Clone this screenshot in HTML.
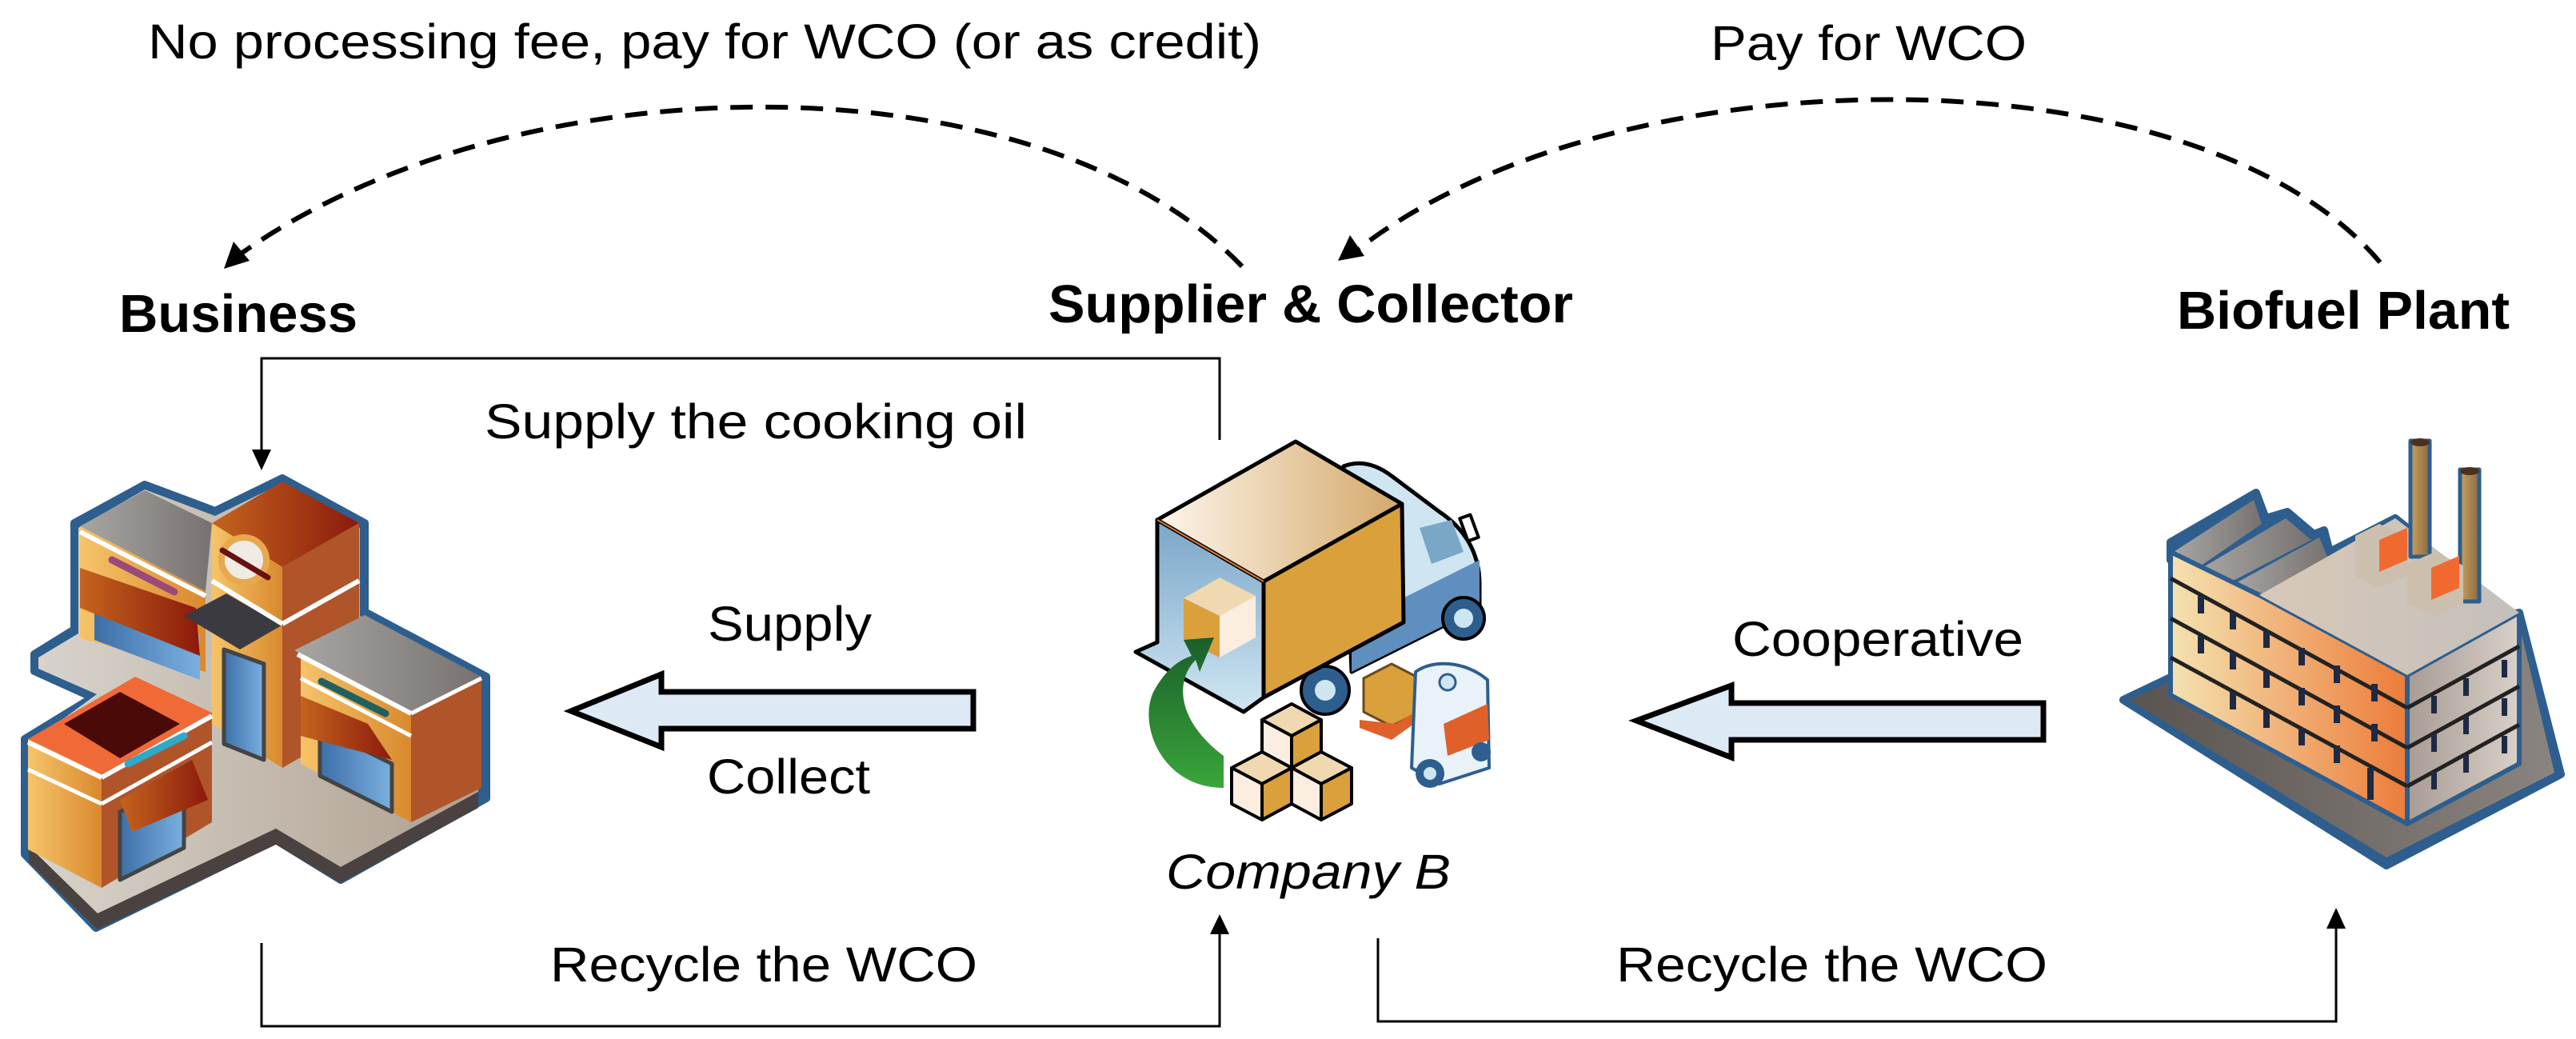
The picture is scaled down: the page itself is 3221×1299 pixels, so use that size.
<!DOCTYPE html>
<html><head><meta charset="utf-8"><style>
html,body{margin:0;padding:0;background:#fff;}
svg{display:block}
text{font-family:"Liberation Sans",Arial,sans-serif;fill:#000}
</style></head><body>
<svg width="3221" height="1299" viewBox="0 0 3221 1299" xmlns="http://www.w3.org/2000/svg">
<defs>
<marker id="ah" markerWidth="10" markerHeight="10" refX="9" refY="5" orient="auto" markerUnits="userSpaceOnUse" viewBox="0 0 10 10">
</marker>
<linearGradient id="gOr" x1="0" x2="1"><stop offset="0" stop-color="#f6c46a"/><stop offset="1" stop-color="#d9892e"/></linearGradient>
<linearGradient id="gBr" x1="0" x2="1"><stop offset="0" stop-color="#c4641e"/><stop offset="1" stop-color="#8c1a0c"/></linearGradient>
<linearGradient id="gGr" x1="0" x2="1"><stop offset="0" stop-color="#a8a6a4"/><stop offset="1" stop-color="#777270"/></linearGradient>
<linearGradient id="gBase" x1="0" x2="1"><stop offset="0" stop-color="#d8d4cc"/><stop offset="1" stop-color="#b0a090"/></linearGradient>
<linearGradient id="gWin" x1="0" x2="1"><stop offset="0" stop-color="#3d6fa8"/><stop offset="1" stop-color="#7ab0e0"/></linearGradient>
<linearGradient id="gBox" x1="0" x2="1"><stop offset="0" stop-color="#fdf6ec"/><stop offset="1" stop-color="#d4a868"/></linearGradient>
<linearGradient id="gTruckIn" x1="0" y1="0" x2="0" y2="1"><stop offset="0" stop-color="#7aa6c8"/><stop offset="1" stop-color="#cfe6f2"/></linearGradient>
<linearGradient id="gFac" x1="0" x2="1"><stop offset="0" stop-color="#f4e2b0"/><stop offset="1" stop-color="#ec7c3a"/></linearGradient>
<linearGradient id="gFacR" x1="0" x2="1"><stop offset="0" stop-color="#a89c94"/><stop offset="1" stop-color="#d8d0c8"/></linearGradient>
<linearGradient id="gRoof" x1="0" x2="1"><stop offset="0" stop-color="#d8c8b8"/><stop offset="1" stop-color="#c4c0bc"/></linearGradient>
<linearGradient id="gChim" x1="0" x2="1"><stop offset="0" stop-color="#c8a060"/><stop offset="1" stop-color="#8a6a40"/></linearGradient>
<linearGradient id="gFBase" x1="0" x2="1"><stop offset="0" stop-color="#5a5450"/><stop offset="1" stop-color="#8a8480"/></linearGradient>
<linearGradient id="gGreen" x1="0" y1="1" x2="0" y2="0"><stop offset="0" stop-color="#3aa63a"/><stop offset="1" stop-color="#1a5e2a"/></linearGradient>
</defs>

<!-- Top labels -->
<text x="185" y="73" font-size="61" textLength="1392" lengthAdjust="spacingAndGlyphs">No processing fee, pay for WCO (or as credit)</text>
<text x="2139" y="75" font-size="61" textLength="395" lengthAdjust="spacingAndGlyphs">Pay for WCO</text>

<!-- Dashed curves -->
<path d="M1553,333 C1300,70 650,70 300,318" fill="none" stroke="#000" stroke-width="6" stroke-dasharray="28,16"/>
<polygon points="280,336 292,302 312,326" fill="#000"/>
<path d="M2976,328 C2750,59 2020,59 1695,314" fill="none" stroke="#000" stroke-width="6" stroke-dasharray="28,16"/>
<polygon points="1673,326 1688,294 1706,320" fill="#000"/>

<!-- Node labels -->
<text x="149" y="415" font-size="67" font-weight="bold" textLength="298" lengthAdjust="spacingAndGlyphs">Business</text>
<text x="1311" y="403" font-size="67" font-weight="bold" textLength="656" lengthAdjust="spacingAndGlyphs">Supplier &amp; Collector</text>
<text x="2722" y="411" font-size="67" font-weight="bold" textLength="416" lengthAdjust="spacingAndGlyphs">Biofuel Plant</text>

<!-- Supply the cooking oil connector -->
<polyline points="1525,550 1525,448 327,448 327,565" fill="none" stroke="#000" stroke-width="3"/>
<polygon points="315,562 339,562 327,588" fill="#000"/>
<text x="606" y="548" font-size="61" textLength="678" lengthAdjust="spacingAndGlyphs">Supply the cooking oil</text>

<!-- Recycle connectors -->
<polyline points="327,1179 327,1283 1525,1283 1525,1165" fill="none" stroke="#000" stroke-width="3"/>
<polygon points="1513,1168 1537,1168 1525,1143" fill="#000"/>
<text x="688" y="1227" font-size="61" textLength="534" lengthAdjust="spacingAndGlyphs">Recycle the WCO</text>
<polyline points="1723,1173 1723,1277 2921,1277 2921,1158" fill="none" stroke="#000" stroke-width="3"/>
<polygon points="2909,1161 2933,1161 2921,1135" fill="#000"/>
<text x="2021" y="1227" font-size="61" textLength="539" lengthAdjust="spacingAndGlyphs">Recycle the WCO</text>

<!-- Block arrows -->
<polygon points="714,889 827,843 827,865 1217,865 1217,911 827,911 827,934" fill="#dde9f5" stroke="#000" stroke-width="7" stroke-linejoin="miter"/>
<text x="885" y="801" font-size="61" textLength="205" lengthAdjust="spacingAndGlyphs">Supply</text>
<text x="884" y="992" font-size="61" textLength="204" lengthAdjust="spacingAndGlyphs">Collect</text>
<polygon points="2046,901 2165,857 2165,879 2555,879 2555,925 2165,925 2165,947" fill="#dde9f5" stroke="#000" stroke-width="7"/>
<text x="2166" y="820" font-size="61" textLength="364" lengthAdjust="spacingAndGlyphs">Cooperative</text>

<text x="1458" y="1111" font-size="61" font-style="italic" textLength="356" lengthAdjust="spacingAndGlyphs">Company B</text>

<!-- Business building -->
<g stroke-linejoin="round">
<polygon points="31,924 31,1068 120,1160 345,1050 426,1100 608,998 608,846 456,765 456,654 353,598 269,639 181,606 93,654 93,787 43,818 43,839 116,872" fill="#2d5e8e" stroke="#2d5e8e" stroke-width="10"/>
<polygon points="36,930 36,1058 122,1142 345,1036 426,1084 598,990 598,852 450,770 450,660 353,604 269,645 181,612 98,660 98,792 48,822 48,836 121,868" fill="url(#gBase)"/>
<polygon points="36,1058 122,1142 345,1036 426,1084 598,990 598,1010 426,1104 345,1056 122,1162 36,1078" fill="#4a4240"/>
<!-- left back block -->
<polygon points="100,658 181,613 265,654 257,739 100,658" fill="url(#gGr)"/>
<polygon points="100,658 257,739 257,840 100,798" fill="url(#gOr)"/>
<polygon points="118,745 250,795 250,850 118,800" fill="url(#gWin)"/>
<polygon points="100,710 245,760 250,820 100,760" fill="url(#gBr)"/>
<line x1="100" y1="665" x2="257" y2="745" stroke="#fff" stroke-width="6"/>
<line x1="140" y1="700" x2="218" y2="740" stroke="#9a4a7a" stroke-width="9" stroke-linecap="round"/>
<!-- tower -->
<polygon points="265,654 353,602 449,654 353,709" fill="url(#gBr)"/>
<polygon points="265,654 353,709 353,960 265,905" fill="url(#gOr)"/>
<polygon points="353,709 449,654 449,905 353,960" fill="#b0542a"/>
<circle cx="305" cy="700" r="28" fill="#f0ece4" stroke="#e8a850" stroke-width="8"/>
<line x1="278" y1="688" x2="335" y2="722" stroke="#6a1010" stroke-width="7" stroke-linecap="round"/>
<polygon points="230,770 283,742 352,782 300,812" fill="#3a3a40"/>
<polygon points="280,812 330,830 330,950 280,930" fill="url(#gWin)" stroke="#444" stroke-width="5"/>
<line x1="265" y1="726" x2="353" y2="780" stroke="#fff" stroke-width="6"/>
<line x1="353" y1="780" x2="449" y2="726" stroke="#fff" stroke-width="6"/>
<!-- right block -->
<polygon points="368,813 456,769 602,846 514,890" fill="url(#gGr)"/>
<polygon points="376,818 514,890 514,1028 376,955" fill="url(#gOr)"/>
<polygon points="514,890 602,846 602,985 514,1028" fill="#b0542a"/>
<polygon points="400,910 490,955 490,1015 400,970" fill="url(#gWin)" stroke="#444" stroke-width="5"/>
<polygon points="376,870 460,905 490,950 376,920" fill="url(#gBr)"/>
<line x1="372" y1="818" x2="514" y2="892" stroke="#fff" stroke-width="6"/>
<line x1="376" y1="848" x2="514" y2="920" stroke="#fff" stroke-width="5"/>
<line x1="514" y1="892" x2="602" y2="848" stroke="#fff" stroke-width="5"/>
<line x1="402" y1="852" x2="482" y2="892" stroke="#1f6060" stroke-width="9" stroke-linecap="round"/>
<!-- front-left block -->
<polygon points="35,924 169,846 265,891 127,968" fill="#f06a38"/>
<polygon points="80,905 150,865 225,905 150,948" fill="#4a0a08"/>
<polygon points="35,924 127,968 127,1110 35,1062" fill="url(#gOr)"/>
<polygon points="127,968 265,891 265,1028 127,1110" fill="#b0542a"/>
<polygon points="150,1015 230,975 230,1060 150,1100" fill="url(#gWin)" stroke="#444" stroke-width="5"/>
<polygon points="150,1000 240,950 260,1000 165,1040" fill="url(#gBr)"/>
<line x1="35" y1="928" x2="127" y2="972" stroke="#fff" stroke-width="6"/>
<line x1="127" y1="972" x2="265" y2="895" stroke="#fff" stroke-width="6"/>
<line x1="35" y1="962" x2="127" y2="1005" stroke="#fff" stroke-width="5"/>
<line x1="127" y1="1005" x2="265" y2="928" stroke="#fff" stroke-width="5"/>
<line x1="160" y1="955" x2="230" y2="920" stroke="#30a8c8" stroke-width="9" stroke-linecap="round"/>
</g>

<!-- Truck -->
<g stroke-linejoin="round">
<!-- cab -->
<path d="M1680,583 C1700,575 1720,580 1740,595 L1800,640 C1830,660 1850,690 1850,730 L1850,760 L1690,840 Z" fill="#cfe6f2" stroke="#000" stroke-width="5"/>
<polygon points="1775,660 1815,650 1830,690 1790,705" fill="#7aa6c8"/>
<polygon points="1690,780 1850,700 1850,760 1690,840" fill="#5f8fbf"/>
<rect x="1830" y="645" width="14" height="30" fill="#fff" stroke="#000" stroke-width="4" transform="rotate(-20 1837 660)"/>
<circle cx="1830" cy="773" r="26" fill="#2d5e8e" stroke="#000" stroke-width="4"/>
<circle cx="1830" cy="773" r="12" fill="#cfe6f2"/>
<circle cx="1657" cy="863" r="30" fill="#2d5e8e" stroke="#000" stroke-width="4"/>
<circle cx="1657" cy="863" r="13" fill="#cfe6f2"/>
<!-- open back -->
<polygon points="1420,815 1447,803 1447,650 1580,727 1580,872 1555,890" fill="url(#gTruckIn)" stroke="#000" stroke-width="5"/>
<!-- box top -->
<polygon points="1447,650 1620,552 1753,630 1580,727" fill="url(#gBox)" stroke="#000" stroke-width="5"/>
<polygon points="1580,727 1753,630 1755,778 1580,872" fill="#d9a03c" stroke="#000" stroke-width="5"/>
<line x1="1447" y1="650" x2="1580" y2="727" stroke="#e07a30" stroke-width="2"/>
<!-- box in truck -->
<polygon points="1480,748 1525,722 1570,745 1525,770" fill="#f0d8b0"/>
<polygon points="1480,748 1525,770 1525,822 1480,800" fill="#d9a03c"/>
<polygon points="1525,770 1570,745 1570,797 1525,822" fill="#fbeee0"/>
<!-- green arrow -->
<path d="M1530,985 C1450,985 1420,900 1445,860 C1460,835 1475,825 1490,820 L1480,800 L1518,797 L1500,840 L1495,825 C1470,850 1470,900 1530,945 Z" fill="url(#gGreen)"/>
<!-- box pile -->
<g stroke="#000" stroke-width="4">
<polygon points="1578,900 1615,880 1652,900 1615,920" fill="#f0d8b0"/>
<polygon points="1578,900 1615,920 1615,960 1578,940" fill="#fbeee0"/>
<polygon points="1615,920 1652,900 1652,940 1615,960" fill="#d9a03c"/>
<polygon points="1540,960 1578,940 1615,960 1578,980" fill="#f0d8b0"/>
<polygon points="1540,960 1578,980 1578,1025 1540,1005" fill="#fbeee0"/>
<polygon points="1578,980 1615,960 1615,1005 1578,1025" fill="#d9a03c"/>
<polygon points="1615,960 1652,940 1690,960 1652,980" fill="#f0d8b0"/>
<polygon points="1615,960 1652,980 1652,1025 1615,1005" fill="#fbeee0"/>
<polygon points="1652,980 1690,960 1690,1005 1652,1025" fill="#d9a03c"/>
</g>
<!-- forklift -->
<polygon points="1705,848 1740,830 1775,848 1775,890 1740,908 1705,890" fill="#d9a03c" stroke="#6a4a20" stroke-width="3"/>
<polygon points="1700,900 1745,905 1770,890 1775,900 1740,925 1700,910" fill="#e0602a"/>
<path d="M1770,840 C1790,825 1830,825 1860,850 L1862,960 L1800,980 L1765,960 Z" fill="#e8f2f8" stroke="#2d5e8e" stroke-width="4"/>
<polygon points="1805,905 1860,880 1862,925 1810,945" fill="#e0602a"/>
<circle cx="1810" cy="853" r="10" fill="#cfe6f2" stroke="#2d5e8e" stroke-width="3"/>
<circle cx="1788" cy="967" r="18" fill="#2d5e8e"/>
<circle cx="1788" cy="967" r="8" fill="#cfe6f2"/>
<circle cx="1852" cy="940" r="12" fill="#2d5e8e"/>
</g>

<!-- Factory -->
<g stroke-linejoin="round">
<polygon points="2655,875 2718,845 3150,766 3202,968 2984,1082" fill="#2d5e8e" stroke="#2d5e8e" stroke-width="10"/>
<polygon points="2662,875 2720,850 3148,772 3194,966 2984,1072" fill="url(#gFBase)"/>
<!-- sawtooth roof -->
<polygon points="2714,678 2821,616 2833,648 2860,640 2893,668 2906,663 2913,690 2995,648 3010,660 2825,744 2714,700" fill="#2d5e8e" stroke="#2d5e8e" stroke-width="10"/>
<polygon points="2718,690 2818,625 2828,655 2748,710" fill="url(#gGr)"/>
<polygon points="2750,712 2858,648 2890,675 2785,730" fill="url(#gGr)"/>
<polygon points="2790,732 2900,672 2912,700 2825,744" fill="url(#gGr)"/>
<!-- walls -->
<polygon points="3010,844 3150,766 3150,955 3010,1030" fill="url(#gFacR)" stroke="#2d5e8e" stroke-width="6"/>
<polygon points="2714,690 2825,744 3010,844 3010,1030 2714,869" fill="url(#gFac)" stroke="#2d5e8e" stroke-width="6"/>
<polygon points="2825,744 2995,648 3150,766 3010,844" fill="url(#gRoof)"/>
<!-- floor lines -->
<g stroke="#222" stroke-width="5" fill="none">
<line x1="2714" y1="723" x2="3010" y2="885"/><line x1="3010" y1="885" x2="3150" y2="808"/>
<line x1="2714" y1="773" x2="3010" y2="935"/><line x1="3010" y1="935" x2="3150" y2="858"/>
<line x1="2714" y1="822" x2="3010" y2="983"/><line x1="3010" y1="983" x2="3150" y2="906"/>
</g>
<!-- windows -->
<g fill="#1e2a44">
<rect x="2748" y="745" width="8" height="22"/><rect x="2788" y="765" width="8" height="22"/><rect x="2830" y="788" width="8" height="22"/><rect x="2874" y="810" width="8" height="22"/><rect x="2918" y="832" width="8" height="22"/><rect x="2965" y="855" width="8" height="22"/>
<rect x="2748" y="795" width="8" height="22"/><rect x="2788" y="815" width="8" height="22"/><rect x="2830" y="838" width="8" height="22"/><rect x="2874" y="860" width="8" height="22"/><rect x="2918" y="882" width="8" height="22"/><rect x="2965" y="905" width="8" height="22"/>
<rect x="2788" y="865" width="8" height="22"/><rect x="2830" y="888" width="8" height="22"/><rect x="2874" y="910" width="8" height="22"/><rect x="2918" y="932" width="8" height="22"/><rect x="2960" y="960" width="8" height="40"/>
<rect x="3040" y="870" width="7" height="22"/><rect x="3080" y="848" width="7" height="22"/><rect x="3128" y="825" width="7" height="22"/>
<rect x="3040" y="918" width="7" height="22"/><rect x="3080" y="896" width="7" height="22"/><rect x="3128" y="873" width="7" height="22"/>
<rect x="3040" y="965" width="7" height="22"/><rect x="3080" y="944" width="7" height="22"/><rect x="3128" y="920" width="7" height="22"/>
</g>
<!-- chimneys -->
<rect x="3014" y="551" width="24" height="145" fill="url(#gChim)" stroke="#2d5e8e" stroke-width="5"/>
<ellipse cx="3026" cy="553" rx="12" ry="5" fill="#4a3020"/>
<rect x="3076" y="587" width="24" height="165" fill="url(#gChim)" stroke="#2d5e8e" stroke-width="5"/>
<ellipse cx="3088" cy="589" rx="12" ry="5" fill="#4a3020"/>
<!-- rooftop units -->
<polygon points="2945,670 2975,655 3010,672 3010,720 2975,735 2945,720" fill="#cdbfae"/>
<polygon points="2975,675 3010,660 3010,700 2975,715" fill="#f06a30"/>
<polygon points="3010,705 3045,690 3080,707 3080,755 3045,770 3010,755" fill="#cdbfae"/>
<polygon points="3040,710 3075,695 3075,735 3040,750" fill="#f06a30"/>
</g>
</svg>
</body></html>
